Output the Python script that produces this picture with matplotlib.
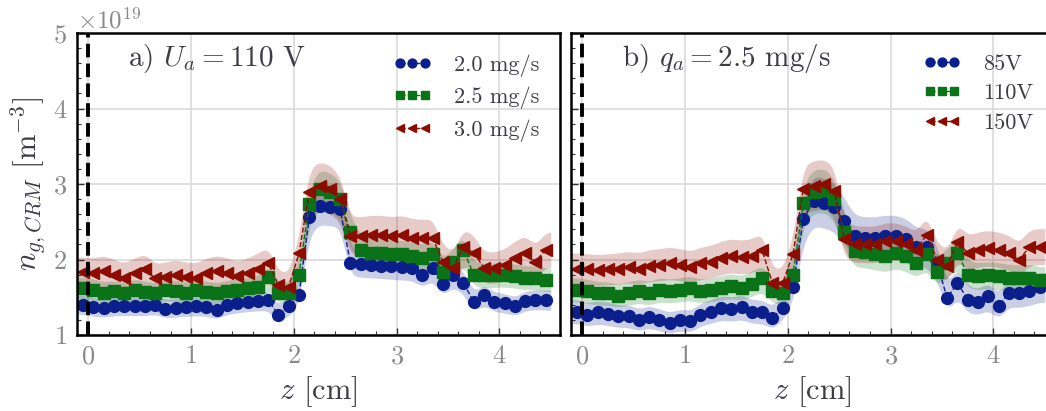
import numpy as np
import matplotlib
matplotlib.use("Agg")
import matplotlib.pyplot as plt
from matplotlib.ticker import MultipleLocator, ScalarFormatter

plt.rcParams['font.family'] = 'serif'
plt.rcParams['font.serif'] = ['cmr10', 'DejaVu Serif']
plt.rcParams['mathtext.fontset'] = 'cm'
plt.rcParams['axes.formatter.use_mathtext'] = True

# ---------------- data ----------------
z_cm = [-0.05, 0.05, 0.15, 0.25, 0.35, 0.45, 0.55, 0.65, 0.75, 0.85,
        0.95, 1.05, 1.15, 1.25, 1.35, 1.45, 1.55, 1.65, 1.75, 1.85,
        1.95, 2.05, 2.15, 2.25, 2.35, 2.45, 2.55, 2.65, 2.75, 2.85,
        2.95, 3.05, 3.15, 3.25, 3.35, 3.45, 3.55, 3.65, 3.75, 3.85,
        3.95, 4.05, 4.15, 4.25, 4.35, 4.45]

# panel a) U_a = 110 V, values in 1e19 m^-3
a_labels = ['2.0 mg/s', '2.5 mg/s', '3.0 mg/s']
a_q20 = [1.40, 1.37, 1.36, 1.38, 1.38, 1.38, 1.38, 1.40, 1.35, 1.36,
         1.37, 1.38, 1.37, 1.33, 1.40, 1.42, 1.44, 1.45, 1.46, 1.27,
         1.38, 1.53, 2.56, 2.71, 2.69, 2.67, 1.96, 1.94, 1.93, 1.92,
         1.91, 1.90, 1.89, 1.80, 1.89, 1.67, 1.80, 1.69, 1.44, 1.53,
         1.44, 1.42, 1.38, 1.45, 1.47, 1.46]
a_q25 = [1.62, 1.60, 1.56, 1.58, 1.55, 1.60, 1.57, 1.55, 1.60, 1.58,
         1.56, 1.60, 1.57, 1.55, 1.58, 1.60, 1.62, 1.63, 1.77, 1.56,
         1.55, 1.80, 2.73, 2.93, 2.89, 2.80, 2.36, 2.13, 2.09, 2.09,
         2.07, 2.07, 2.04, 2.02, 2.07, 1.84, 1.97, 2.13, 1.80, 1.79,
         1.79, 1.80, 1.78, 1.76, 1.76, 1.73]
a_q30 = [1.83, 1.82, 1.85, 1.80, 1.76, 1.82, 1.87, 1.75, 1.77, 1.80,
         1.77, 1.76, 1.82, 1.85, 1.82, 1.78, 1.82, 1.88, 1.95, 1.66,
         1.64, 2.08, 2.89, 2.97, 2.93, 2.80, 2.31, 2.31, 2.33, 2.33,
         2.31, 2.33, 2.29, 2.28, 2.29, 1.97, 1.89, 2.17, 2.09, 1.89,
         1.89, 1.93, 2.02, 2.09, 1.97, 2.13]
a_rel_unc = [0.09, 0.09, 0.11]

# panel b) q_a = 2.5 mg/s
b_labels = ['85V', '110V', '150V']
b_u85 = [1.31, 1.27, 1.30, 1.28, 1.25, 1.25, 1.20, 1.24, 1.20, 1.16,
         1.20, 1.18, 1.27, 1.31, 1.36, 1.34, 1.37, 1.31, 1.31, 1.23,
         1.36, 1.63, 2.53, 2.78, 2.75, 2.69, 2.51, 2.31, 2.29, 2.29,
         2.31, 2.31, 2.27, 2.16, 2.16, 1.96, 1.49, 1.69, 1.47, 1.44,
         1.51, 1.38, 1.56, 1.55, 1.58, 1.63]
b_u110 = [1.60, 1.58, 1.55, 1.55, 1.52, 1.55, 1.58, 1.55, 1.60, 1.58,
          1.60, 1.62, 1.58, 1.60, 1.62, 1.65, 1.62, 1.68, 1.75, 1.58,
          1.55, 1.80, 2.75, 2.90, 2.92, 2.80, 2.36, 2.11, 2.10, 2.07,
          2.04, 2.09, 2.05, 1.96, 2.07, 1.84, 1.95, 2.09, 1.80, 1.78,
          1.79, 1.78, 1.76, 1.75, 1.76, 1.73]
b_u150 = [1.88, 1.87, 1.86, 1.87, 1.88, 1.90, 1.88, 1.92, 1.93, 1.95,
          1.93, 1.90, 1.95, 1.97, 2.02, 2.05, 2.03, 2.05, 2.12, 1.69,
          1.69, 2.07, 2.93, 2.98, 3.00, 2.91, 2.27, 2.20, 2.20, 2.20,
          2.24, 2.24, 2.20, 2.13, 2.33, 2.00, 1.91, 2.23, 2.09, 2.13,
          2.15, 2.13, 2.09, 2.00, 2.16, 2.17]
b_rel_unc = [0.12, 0.10, 0.11]

scale = 1e19
colors = ['#0b1f8c', '#0a7318', '#8c0c00']
markers = ['o', 's', '<']
titles = [r'a) $U_a = 110$ V', r'b) $q_a = 2.5$ mg/s']

# ---------------- drawing ----------------
fig = plt.figure(figsize=(10.46, 4.11), dpi=100)
axA = fig.add_axes([77 / 1046, 76 / 411, 483 / 1046, 302 / 411])
axB = fig.add_axes([571 / 1046, 76 / 411, 483 / 1046, 302 / 411])

text_col = '#3c3c46'
tick_col = '#8a8a8a'

z = np.array(z_cm)
zf = np.linspace(-0.11, 4.50, 600)
dz = zf[1] - zf[0]
sig = 0.035
kx = np.arange(-int(4 * sig / dz), int(4 * sig / dz) + 1) * dz
kern = np.exp(-0.5 * (kx / sig) ** 2)
kern /= kern.sum()


def smooth_band(vals):
    vf = np.interp(zf, z, vals)
    pad = len(kx) // 2
    vp = np.concatenate([np.full(pad, vf[0]), vf, np.full(pad, vf[-1])])
    return np.convolve(vp, kern, mode='valid')


panels = [(axA, [a_q20, a_q25, a_q30], a_labels, a_rel_unc, titles[0]),
          (axB, [b_u85, b_u110, b_u150], b_labels, b_rel_unc, titles[1])]

for k, (ax, series, labels, rel, title) in enumerate(panels):
    ax.set_axisbelow(True)
    ax.grid(True, which='major', color='#dcdcdc', lw=1.3)
    for vals, lab, c, m, r in zip(series, labels, colors, markers, rel):
        v = np.array(vals) * scale
        sm = smooth_band(v)
        ax.fill_between(zf, sm * (1 - r), sm * (1 + r), color=c, alpha=0.21, lw=0)
    for vals, lab, c, m in zip(series, labels, colors, markers):
        v = np.array(vals) * scale
        ax.plot(z, v, ls='--', lw=1.0, color=c, marker=m, ms=8.5, mec=c, mfc=c,
                label=lab)
    ax.axvline(0, color='black', ls='--', lw=2.8, dashes=(3.5, 1.6), zorder=5)
    ax.set_xlim(-0.11, 4.59)
    ax.set_ylim(1e19, 5e19)
    ax.xaxis.set_major_locator(MultipleLocator(1))
    ax.xaxis.set_minor_locator(MultipleLocator(0.2))
    ax.yaxis.set_major_locator(MultipleLocator(1e19))
    ax.yaxis.set_minor_locator(MultipleLocator(0.2e19))
    ax.tick_params(which='both', direction='in', color='#333333',
                   labelcolor=tick_col, labelsize=19)
    ax.tick_params(which='major', length=5, width=1.0, pad=7)
    ax.tick_params(which='minor', length=3, width=0.8)
    for sp in ax.spines.values():
        sp.set_linewidth(1.8)
        sp.set_color('black')
    ax.set_xlabel(r'$z$ [cm]', fontsize=22, color=text_col, labelpad=4)
    ax.text(0.105, 0.915, title, transform=ax.transAxes, fontsize=21,
            color=text_col, ha='left', va='center')
    leg = ax.legend(loc='upper right', frameon=False, fontsize=16, numpoints=3,
                    markerscale=0.75, handlelength=1.7, handletextpad=1.0,
                    labelspacing=0.45, borderaxespad=0.55)
    for t in leg.get_texts():
        t.set_color(text_col)

fmt = ScalarFormatter(useMathText=True)
axA.yaxis.set_major_formatter(fmt)
axA.yaxis.get_offset_text().set_fontsize(18)
axA.yaxis.get_offset_text().set_color(tick_col)
axA.set_ylabel(r'$n_{g,CRM}$ [m$^{-3}$]', fontsize=22, color=text_col, labelpad=3)
axB.tick_params(labelleft=False)
axB.yaxis.get_offset_text().set_visible(False)

fig.savefig('out.png', dpi=100)
